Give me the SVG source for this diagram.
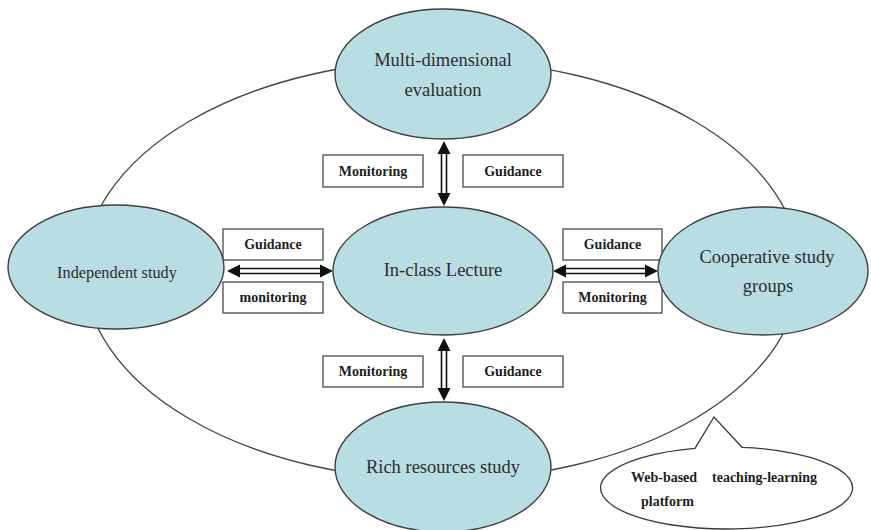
<svg xmlns="http://www.w3.org/2000/svg" width="871" height="530" viewBox="0 0 871 530">
  <style>
    .node { fill: #b8dde2; stroke: #3f3f3f; stroke-width: 1.4; }
    .ntext { font-family: "Liberation Serif", "Times New Roman", serif; font-size: 18.5px; fill: #2e2e2e; text-anchor: middle; }
    .box { fill: #ffffff; stroke: #4a4a4a; stroke-width: 1.3; }
    .btext { font-family: "Liberation Serif", "Times New Roman", serif; font-size: 14px; font-weight: bold; fill: #1e1e1e; text-anchor: middle; }
    .shaft { stroke: #111; stroke-width: 1.6; fill: none; }
    .head { fill: #111; }
    .ring { fill: none; stroke: #444; stroke-width: 1.3; }
  </style>
  <rect width="871" height="530" fill="#ffffff"/>

  <!-- platform ring joining the study modes -->
  <ellipse class="ring" cx="442" cy="270" rx="358" ry="210"/>

  <g id="connectors">
    <!-- top: evaluation <-> lecture -->
    <line class="shaft" x1="441.5" y1="152" x2="441.5" y2="195"/>
    <line class="shaft" x1="446.5" y1="152" x2="446.5" y2="195"/>
    <polygon class="head" points="444,141 437.5,154 450.5,154"/>
    <polygon class="head" points="444,206 437.5,193 450.5,193"/>
    <!-- bottom: lecture <-> resources -->
    <line class="shaft" x1="441.5" y1="349" x2="441.5" y2="390"/>
    <line class="shaft" x1="446.5" y1="349" x2="446.5" y2="390"/>
    <polygon class="head" points="444,338 437.5,351 450.5,351"/>
    <polygon class="head" points="444,401 437.5,388 450.5,388"/>
    <!-- left: independent <-> lecture -->
    <line class="shaft" x1="238" y1="268.5" x2="322" y2="268.5"/>
    <line class="shaft" x1="238" y1="273.5" x2="322" y2="273.5"/>
    <polygon class="head" points="227,271 240,264.5 240,277.5"/>
    <polygon class="head" points="333,271 320,264.5 320,277.5"/>
    <!-- right: lecture <-> cooperative -->
    <line class="shaft" x1="564" y1="268.5" x2="647" y2="268.5"/>
    <line class="shaft" x1="564" y1="273.5" x2="647" y2="273.5"/>
    <polygon class="head" points="553,271 566,264.5 566,277.5"/>
    <polygon class="head" points="658,271 645,264.5 645,277.5"/>
  </g>

  <g id="labels">
    <rect class="box" x="323" y="155" width="100" height="32"/>
    <text class="btext" x="373" y="176">Monitoring</text>
    <rect class="box" x="463" y="155" width="100" height="32"/>
    <text class="btext" x="513" y="176">Guidance</text>

    <rect class="box" x="323" y="356" width="100" height="31"/>
    <text class="btext" x="373" y="376">Monitoring</text>
    <rect class="box" x="463" y="356" width="100" height="31"/>
    <text class="btext" x="513" y="376">Guidance</text>

    <rect class="box" x="223" y="229" width="100" height="31"/>
    <text class="btext" x="273" y="249">Guidance</text>
    <rect class="box" x="223" y="282" width="100" height="31"/>
    <text class="btext" x="273" y="302">monitoring</text>

    <rect class="box" x="563" y="229" width="99" height="31"/>
    <text class="btext" x="612.5" y="249">Guidance</text>
    <rect class="box" x="563" y="282" width="99" height="31"/>
    <text class="btext" x="612.5" y="302">Monitoring</text>
  </g>

  <g id="evaluation">
    <ellipse class="node" cx="443" cy="74" rx="108" ry="65"/>
    <text class="ntext" x="443" y="66">Multi-dimensional</text>
    <text class="ntext" x="443" y="96">evaluation</text>
  </g>

  <g id="lecture">
    <ellipse class="node" cx="443" cy="271" rx="110" ry="64"/>
    <text class="ntext" x="443" y="276">In-class Lecture</text>
  </g>

  <g id="independent">
    <ellipse class="node" cx="116" cy="267" rx="108" ry="62"/>
    <text class="ntext" x="117" y="278" style="font-size:16.3px">Independent study</text>
  </g>

  <g id="cooperative">
    <ellipse class="node" cx="763" cy="271" rx="105" ry="64"/>
    <text class="ntext" x="767" y="263">Cooperative study</text>
    <text class="ntext" x="768" y="292">groups</text>
  </g>

  <g id="resources">
    <ellipse class="node" cx="443" cy="467" rx="108" ry="65"/>
    <text class="ntext" x="443" y="473">Rich resources study</text>
  </g>

  <g id="platform">
    <path d="M695,448.3 L714,417 L742,447.3 A126,41 0 1 1 695,448.3 Z" fill="#ffffff" stroke="#3a3a3a" stroke-width="1.3"/>
    <text class="btext" x="631" y="482" style="text-anchor:start">Web-based</text>
    <text class="btext" x="712" y="482" style="text-anchor:start">teaching-learning</text>
    <text class="btext" x="641" y="506" style="text-anchor:start">platform</text>
  </g>
</svg>
